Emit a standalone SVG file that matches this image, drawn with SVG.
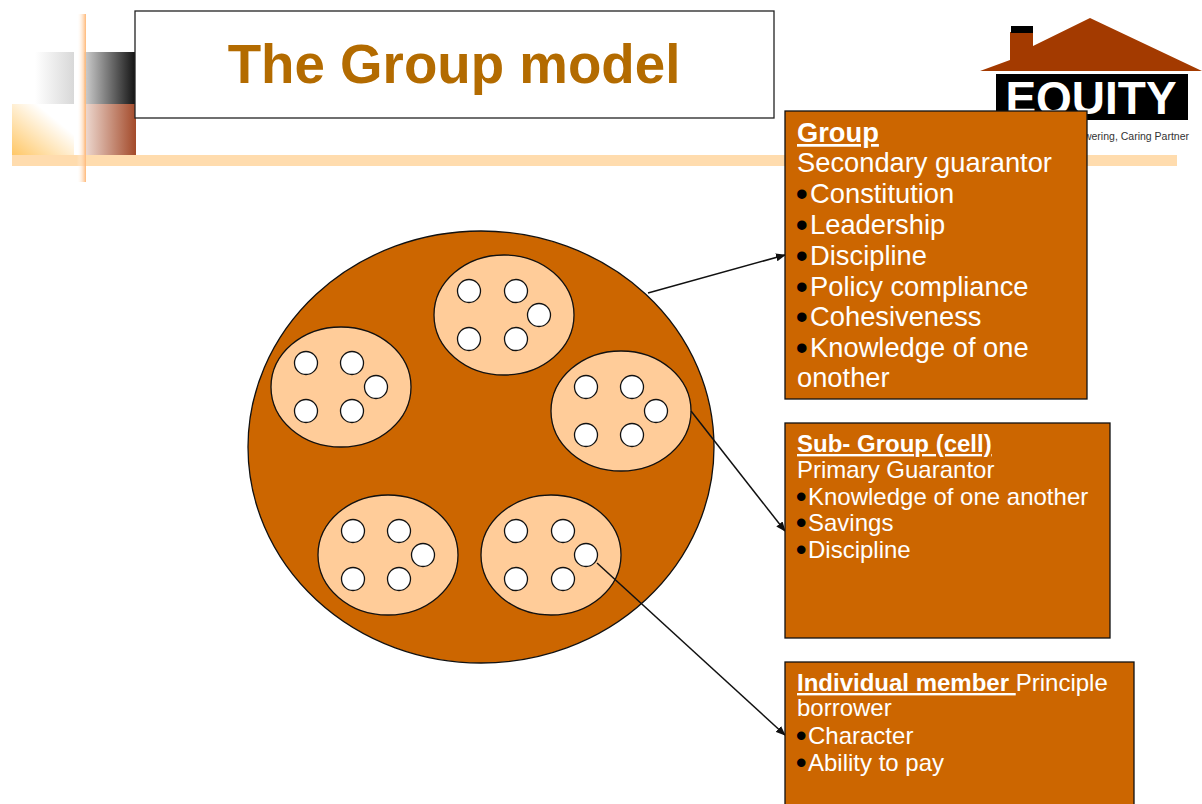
<svg xmlns="http://www.w3.org/2000/svg" width="1202" height="804" viewBox="0 0 1202 804">
<style>
.box{fill:#cc6600;stroke:#111;stroke-width:1.3}
.t{font-family:"Liberation Sans",Arial,sans-serif;fill:#fff}
.b{fill:#000;stroke:#000;stroke-width:2px}
.h{font-weight:bold;text-decoration:underline}
.cell{fill:#ffcc99;stroke:#111;stroke-width:1.3}
.m{fill:#fff;stroke:#111;stroke-width:1.3}
.c{stroke:#111;stroke-width:1.5;fill:none;marker-end:url(#a)}
</style>
<defs>
<marker id="a" markerWidth="10" markerHeight="8" refX="9" refY="4" orient="auto" markerUnits="userSpaceOnUse"><path d="M0 0L10 4L0 8Z" fill="#111"/></marker>
<linearGradient id="g1"><stop offset="0" stop-color="#fff"/><stop offset="1" stop-color="#d8d8d8"/></linearGradient>
<linearGradient id="g2"><stop offset="0" stop-color="#d0d0d0"/><stop offset="1" stop-color="#111"/></linearGradient>
<linearGradient id="g3" x1="0" y1="1" x2="1" y2="0"><stop offset="0" stop-color="#ffc766"/><stop offset=".7" stop-color="#fff"/></linearGradient>
<linearGradient id="g4"><stop offset="0" stop-color="#efdcd4"/><stop offset="1" stop-color="#a34a2a"/></linearGradient>
<linearGradient id="g5"><stop offset="0" stop-color="#fff" stop-opacity="0"/><stop offset="1" stop-color="#ffb877"/></linearGradient>
</defs>
<rect width="1202" height="804" fill="#fff"/>
<g id="decor">
<rect x="35" y="52" width="39" height="52" fill="url(#g1)"/>
<rect x="84" y="52" width="52" height="52" fill="url(#g2)"/>
<rect x="12" y="104" width="62" height="51" fill="url(#g3)"/>
<rect x="84" y="104" width="52" height="51" fill="url(#g4)"/>
<rect x="12" y="155" width="1165" height="11" fill="#ffdcae"/>
<rect x="77" y="14" width="9" height="168" fill="url(#g5)"/>
</g>
<g id="logo">
<path d="M980 71L1010 60V32H1033V46L1090 18L1202 71Z" fill="#a33a00"/>
<rect x="1011" y="26" width="22" height="7" fill="#000"/>
<rect x="996" y="74" width="192" height="46" fill="#000"/>
<text x="1091" y="114" text-anchor="middle" font-family="'Liberation Sans',Arial,sans-serif" font-weight="bold" font-size="46" fill="#fff">EQUITY</text>
<text x="1189" y="140" text-anchor="end" font-family="'Liberation Sans',Arial,sans-serif" font-size="10.5" fill="#333">Empowering, Caring Partner</text>
</g>
<g id="title">
<rect x="135" y="11" width="639" height="107" fill="#fff" stroke="#222" stroke-width="1.3"/>
<text x="454" y="83" text-anchor="middle" font-family="'Liberation Sans',Arial,sans-serif" font-weight="bold" font-size="54.7" fill="#b36b00">The Group model</text>
</g>
<g id="outer"><ellipse cx="481" cy="447" rx="233" ry="216" fill="#cc6600" stroke="#111" stroke-width="1.3"/></g>
<g id="cell1"><ellipse class="cell" cx="504" cy="315" rx="70" ry="60"/><circle class="m" cx="469" cy="291" r="11.5"/><circle class="m" cx="516" cy="291" r="11.5"/><circle class="m" cx="539" cy="315" r="11.5"/><circle class="m" cx="469" cy="339" r="11.5"/><circle class="m" cx="516" cy="339" r="11.5"/></g>
<g id="cell2"><ellipse class="cell" cx="341" cy="387" rx="70" ry="60"/><circle class="m" cx="306" cy="363" r="11.5"/><circle class="m" cx="352" cy="363" r="11.5"/><circle class="m" cx="376" cy="387" r="11.5"/><circle class="m" cx="306" cy="411" r="11.5"/><circle class="m" cx="352" cy="411" r="11.5"/></g>
<g id="cell3"><ellipse class="cell" cx="621" cy="411" rx="70" ry="60"/><circle class="m" cx="586" cy="387" r="11.5"/><circle class="m" cx="632" cy="387" r="11.5"/><circle class="m" cx="656" cy="411" r="11.5"/><circle class="m" cx="586" cy="435" r="11.5"/><circle class="m" cx="632" cy="435" r="11.5"/></g>
<g id="cell4"><ellipse class="cell" cx="388" cy="555" rx="70" ry="60"/><circle class="m" cx="353" cy="531" r="11.5"/><circle class="m" cx="399" cy="531" r="11.5"/><circle class="m" cx="423" cy="555" r="11.5"/><circle class="m" cx="353" cy="579" r="11.5"/><circle class="m" cx="399" cy="579" r="11.5"/></g>
<g id="cell5"><ellipse class="cell" cx="551" cy="555" rx="70" ry="60"/><circle class="m" cx="516" cy="531" r="11.5"/><circle class="m" cx="563" cy="531" r="11.5"/><circle class="m" cx="586" cy="555" r="11.5"/><circle class="m" cx="516" cy="579" r="11.5"/><circle class="m" cx="563" cy="579" r="11.5"/></g>
<g id="connectors">
<line class="c" x1="648" y1="293" x2="785" y2="255"/>
<line class="c" x1="691" y1="411" x2="785" y2="531"/>
<line class="c" x1="597" y1="563" x2="785" y2="735"/>
</g>
<g id="group">
<rect class="box" x="785" y="111" width="302" height="288"/>
<g font-size="27.3">
<text class="t h" x="797" y="142">Group</text>
<text class="t" x="797" y="172">Secondary guarantor</text>
<text class="t" x="797" y="203"><tspan class="b">•</tspan><tspan dx="3.5">Constitution</tspan></text>
<text class="t" x="797" y="234"><tspan class="b">•</tspan><tspan dx="3.5">Leadership</tspan></text>
<text class="t" x="797" y="265"><tspan class="b">•</tspan><tspan dx="3.5">Discipline</tspan></text>
<text class="t" x="797" y="296"><tspan class="b">•</tspan><tspan dx="3.5">Policy compliance</tspan></text>
<text class="t" x="797" y="326"><tspan class="b">•</tspan><tspan dx="3.5">Cohesiveness</tspan></text>
<text class="t" x="797" y="357"><tspan class="b">•</tspan><tspan dx="3.5">Knowledge of one</tspan></text>
<text class="t" x="797" y="387">onother</text>
</g>
</g>
<g id="subgroup">
<rect class="box" x="785" y="423" width="325" height="215"/>
<g font-size="24">
<text class="t h" x="797" y="452">Sub- Group (cell)</text>
<text class="t" x="797" y="478">Primary Guarantor</text>
<text class="t" x="797" y="505"><tspan class="b">•</tspan><tspan dx="2.6">Knowledge of one another</tspan></text>
<text class="t" x="797" y="531"><tspan class="b">•</tspan><tspan dx="2.6">Savings</tspan></text>
<text class="t" x="797" y="558"><tspan class="b">•</tspan><tspan dx="2.6">Discipline</tspan></text>
</g>
</g>
<g id="individual">
<rect class="box" x="785" y="662" width="349" height="150"/>
<g font-size="24">
<text class="t" x="797" y="691" xml:space="preserve"><tspan class="h">Individual member </tspan>Principle</text>
<text class="t" x="797" y="716">borrower</text>
<text class="t" x="797" y="744"><tspan class="b">•</tspan><tspan dx="2.6">Character</tspan></text>
<text class="t" x="797" y="771"><tspan class="b">•</tspan><tspan dx="2.6">Ability to pay</tspan></text>
</g>
</g>
</svg>
